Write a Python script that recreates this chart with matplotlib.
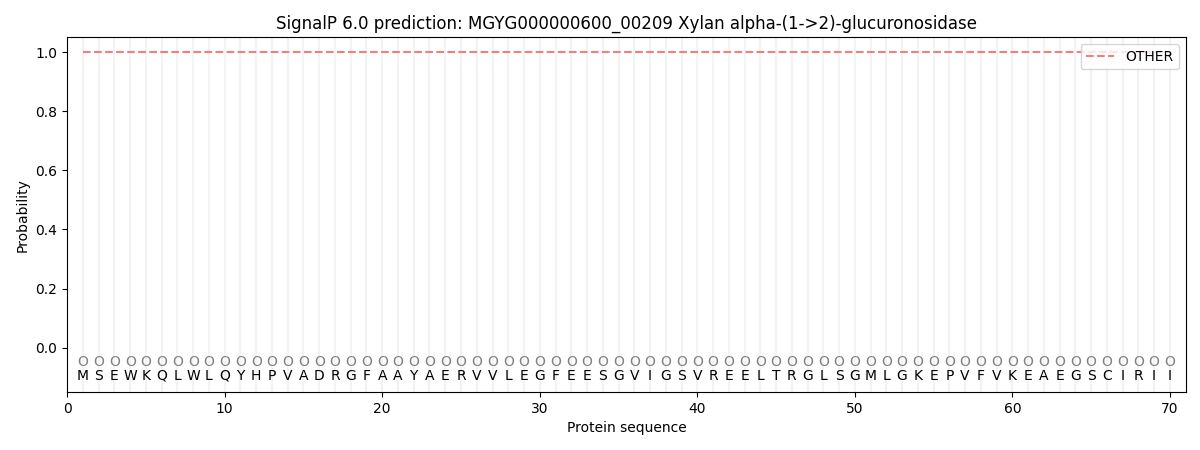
import numpy as np
import matplotlib
matplotlib.use('Agg')
import matplotlib.pyplot as plt

# sequence and per-residue probabilities
sequence = list("MSEWKQLWLQYHPVADRGFAAYAERVVLEGFEESGVIGSVREELTRGLSGMLGKEPVFVKEAEGSCIRII")
positions = np.arange(1, len(sequence) + 1)
prob_other = np.ones(len(sequence))

fig, ax = plt.subplots(figsize=(12, 4.5), dpi=100)

# light vertical guide per residue
for p in positions:
    ax.axvline(p, color='#f3f3f3', linewidth=1.5, zorder=0)

ax.plot(positions, prob_other, linestyle='--', color='#f08080', linewidth=1.5, label='OTHER')

# grey "O" markers and residue letters below zero
for p, aa in zip(positions, sequence):
    ax.text(p, -0.048, 'O', ha='center', va='center', fontsize=10, color='grey')
    ax.text(p, -0.095, aa, ha='center', va='center', fontsize=10)

ax.set_xlim(0, 71)
ax.set_ylim(-0.15, 1.05)
ax.set_xlabel('Protein sequence')
ax.set_ylabel('Probability')
ax.set_title('SignalP 6.0 prediction: MGYG000000600_00209 Xylan alpha-(1->2)-glucuronosidase')
ax.legend(loc='upper right')

plt.subplots_adjust(left=0.056, right=0.988, top=0.917, bottom=0.129)
plt.savefig('out.png')
